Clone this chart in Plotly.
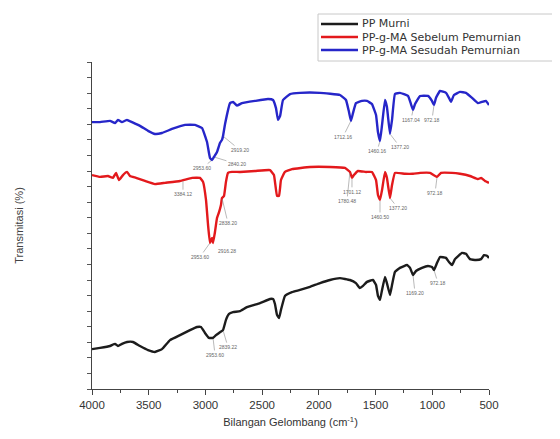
import numpy as np
import plotly.graph_objects as go

# ---------------- data (wavenumber cm^-1, transmittance a.u.) ----------------
wn_murni = [4000, 3929, 3841, 3797, 3771, 3736, 3691, 3639, 3577, 3506, 3445, 3383, 3312, 3224,
            3136, 3074, 3039, 3004, 2969, 2933, 2907, 2880, 2845, 2819, 2792, 2757, 2695, 2634,
            2519, 2431, 2404, 2387, 2369, 2351, 2334, 2299, 2237, 2166, 2078, 1990, 1902, 1814,
            1726, 1673, 1638, 1611, 1576, 1523, 1496, 1479, 1461, 1443, 1417, 1400, 1373, 1355,
            1329, 1285, 1223, 1196, 1170, 1144, 1091, 1038, 1003, 985, 958, 932, 879, 853, 826,
            800, 738, 703, 668, 615, 570, 544, 518, 500]
t_murni = [12.8, 13.2, 13.8, 14.5, 13.8, 14.5, 15.1, 15.1, 13.8, 12.5, 11.9, 12.8, 15.7, 17.3,
           18.9, 19.9, 19.9, 18.0, 16.4, 16.4, 17.3, 18.0, 18.9, 22.2, 24.1, 24.7, 25.0, 26.3,
           27.6, 28.9, 28.9, 27.3, 23.8, 22.8, 25.4, 29.9, 31.1, 31.8, 32.8, 34.0, 35.0, 35.6,
           35.0, 34.0, 32.4, 33.1, 34.4, 35.0, 33.4, 29.9, 28.6, 31.8, 36.0, 34.0, 30.2, 33.4,
           37.6, 38.9, 39.8, 38.9, 36.6, 37.9, 38.9, 39.5, 39.2, 38.2, 40.5, 42.4, 42.1, 40.8,
           39.8, 41.7, 43.7, 43.4, 41.7, 41.4, 41.7, 43.0, 42.8, 42.1]

wn_sebelum = [4000, 3929, 3859, 3815, 3788, 3762, 3727, 3691, 3665, 3612, 3533, 3445, 3356, 3224,
              3118, 3048, 3021, 2995, 2977, 2960, 2942, 2933, 2916, 2898, 2880, 2863, 2854, 2836,
              2819, 2801, 2766, 2695, 2563, 2431, 2396, 2369, 2351, 2334, 2299, 2237, 2078, 1902,
              1770, 1726, 1708, 1691, 1655, 1585, 1532, 1496, 1479, 1461, 1443, 1417, 1400, 1373,
              1355, 1329, 1241, 1170, 1108, 1020, 958, 923, 826, 756, 668, 597, 570, 535, 500]
t_sebelum = [68.7, 68.1, 68.4, 67.8, 69.4, 67.1, 68.7, 69.7, 68.4, 67.8, 66.8, 65.8, 66.2, 66.8,
             67.8, 67.8, 66.5, 60.7, 52.7, 46.9, 48.5, 46.9, 50.4, 54.9, 56.8, 59.1, 61.3, 62.0,
             66.5, 69.4, 69.7, 69.7, 70.0, 70.3, 68.7, 62.0, 62.0, 67.1, 69.7, 70.6, 71.3, 71.3,
             71.0, 69.7, 67.8, 68.7, 70.0, 69.7, 69.7, 67.1, 62.3, 60.7, 63.9, 69.7, 67.8, 61.3,
             65.5, 69.4, 69.1, 69.1, 69.4, 69.4, 68.1, 69.4, 69.4, 69.1, 68.4, 67.4, 67.8, 66.8, 66.2]

wn_sesudah = [4000, 3929, 3841, 3797, 3771, 3736, 3691, 3647, 3577, 3506, 3445, 3383, 3295, 3180,
              3092, 3030, 2986, 2960, 2942, 2925, 2898, 2872, 2854, 2845, 2827, 2783, 2757, 2722,
              2678, 2563, 2448, 2404, 2378, 2360, 2342, 2316, 2254, 2166, 1990, 1814, 1761, 1734,
              1717, 1699, 1673, 1620, 1576, 1532, 1496, 1479, 1461, 1443, 1417, 1400, 1373, 1355,
              1329, 1285, 1214, 1188, 1170, 1152, 1108, 1038, 1003, 985, 967, 932, 879, 853, 835,
              809, 756, 703, 650, 597, 562, 527, 500]
t_sesudah = [85.7, 85.7, 86.1, 85.4, 86.4, 85.7, 86.4, 85.7, 84.5, 82.9, 81.9, 82.2, 83.5, 84.8,
             84.8, 83.8, 79.3, 74.2, 73.5, 74.5, 76.1, 79.0, 80.0, 81.2, 85.1, 91.8, 92.2, 91.0,
             91.8, 92.5, 93.1, 92.8, 90.2, 86.4, 87.6, 92.8, 94.7, 95.1, 95.1, 94.4, 92.8, 88.9,
             86.1, 88.6, 91.8, 92.5, 92.5, 91.5, 88.0, 82.5, 79.6, 84.8, 92.8, 90.6, 81.9, 86.4,
             94.7, 95.1, 94.1, 91.5, 89.6, 91.5, 94.1, 94.1, 92.5, 91.2, 93.5, 95.7, 95.1, 93.5,
             92.2, 94.4, 95.4, 95.1, 93.5, 91.8, 92.2, 92.5, 91.2]

series_names = ["PP Murni", "PP-g-MA Sebelum Pemurnian", "PP-g-MA Sesudah Pemurnian"]

# peak labels: (text, wavenumber of peak)
peaks_murni = [("2953.60", 2933), ("2839.22", 2845), ("1169.20", 1170), ("972.18", 985)]
peaks_sebelum = [("3384.12", 3198), ("2953.60", 2960), ("2916.28", 2933), ("2838.20", 2854),
                 ("1701.12", 1708), ("1780.48", 1726), ("1460.50", 1461), ("1377.20", 1373),
                 ("972.18", 958)]
peaks_sesudah = [("2953.60", 2942), ("2919.20", 2845), ("2840.20", 2925), ("1712.16", 1717),
                 ("1460.16", 1461), ("1377.20", 1373), ("1167.04", 1170), ("972.18", 985)]

# label text offsets (pixels) from the peak point
off_murni = [(2, 17), (5, 17), (2, 18), (4, 13)]
off_sebelum = [(0, 14), (-10, 14), (14, 8), (6, 25), (0, 14), (-3, 29), (0, 17), (8, 10), (-2, 16)]
off_sesudah = [(-10, 8), (17, 14), (23, 7), (-8, 16), (-3, 10), (10, 13), (-2, 10), (-2, 15)]

colors = ["#1c1c1c", "#e3191c", "#2626c9"]

# ---------------- figure ----------------
fig = go.Figure()
all_wn = [wn_murni, wn_sebelum, wn_sesudah]
all_t = [t_murni, t_sebelum, t_sesudah]
for wn, t, name, c in zip(all_wn, all_t, series_names, colors):
    fig.add_trace(go.Scatter(x=wn, y=t, mode="lines", name=name,
                             line=dict(color=c, width=2.4, shape="spline", smoothing=0.3),
                             showlegend=False))

annotations = []
for wn, t, peaks, offs in zip(all_wn, all_t, [peaks_murni, peaks_sebelum, peaks_sesudah],
                              [off_murni, off_sebelum, off_sesudah]):
    wn_a = np.array(wn[::-1], dtype=float)
    t_a = np.array(t[::-1], dtype=float)
    for (txt, p), (dx, dy) in zip(peaks, offs):
        yv = float(np.interp(p, wn_a, t_a))
        annotations.append(dict(x=p, y=yv, xref="x", yref="y", text=txt, showarrow=True,
                                arrowhead=0, arrowwidth=0.6, arrowcolor="#8a8a8a",
                                ax=dx, ay=dy, standoff=1,
                                font=dict(size=5, color="#666", family="Liberation Sans")))

# page body has an 8px default margin; figure is placed accordingly
OFF = 8
FW, FH = 560 - OFF, 439 - OFF
L, T, W, H = 92 - OFF, 62 - OFF, 397, 327


def px_x(p):
    return (p - OFF - L) / W


def px_y(p):
    return (T + H - (p - OFF)) / H


shapes = [dict(type="rect", xref="paper", yref="paper", x0=px_x(318), x1=px_x(580),
               y0=px_y(61), y1=px_y(14), line=dict(color="#c8c8c8", width=1),
               fillcolor="white", layer="above")]
for i, (name, c) in enumerate(zip(series_names, colors)):
    yy = px_y(24 + 13 * i)
    shapes.append(dict(type="line", xref="paper", yref="paper", x0=px_x(321), x1=px_x(358),
                       y0=yy, y1=yy, line=dict(color=c, width=2.4), layer="above"))
    annotations.append(dict(x=px_x(360), y=yy, xref="paper", yref="paper", text=name,
                            showarrow=False, xanchor="left", yanchor="middle",
                            font=dict(size=11, color="#333", family="DejaVu Sans")))

fig.update_layout(
    width=FW, height=FH,
    margin=dict(l=L, r=FW - L - W, t=T, b=FH - T - H),
    paper_bgcolor="white", plot_bgcolor="white",
    showlegend=False,
    font=dict(family="Liberation Sans", color="#333"),
    annotations=annotations, shapes=shapes,
)
fig.update_xaxes(range=[4000, 500], tickvals=[4000, 3500, 3000, 2500, 2000, 1500, 1000, 500],
                 ticks="outside", ticklen=5, tickwidth=1.2, tickcolor="#444",
                 minor=dict(dtick=250, ticks="outside", ticklen=3, tickcolor="#444", showgrid=False),
                 showline=True, linecolor="#444", linewidth=1.4, showgrid=False, zeroline=False,
                 tickfont=dict(size=11.5, color="#333"),
                 title=dict(text="Bilangan Gelombang (cm<sup>-1</sup>)", font=dict(size=11, color="#333"),
                            standoff=8))
fig.update_yaxes(range=[0, 105], dtick=5, tick0=0, ticks="outside", ticklen=4, tickwidth=1,
                 tickcolor="#555", showticklabels=False,
                 showline=True, linecolor="#444", linewidth=1.4, showgrid=False, zeroline=False,
                 title=dict(text="Transmitasi (%)", font=dict(size=11, color="#444"), standoff=60))

fig.write_html("out.html")
